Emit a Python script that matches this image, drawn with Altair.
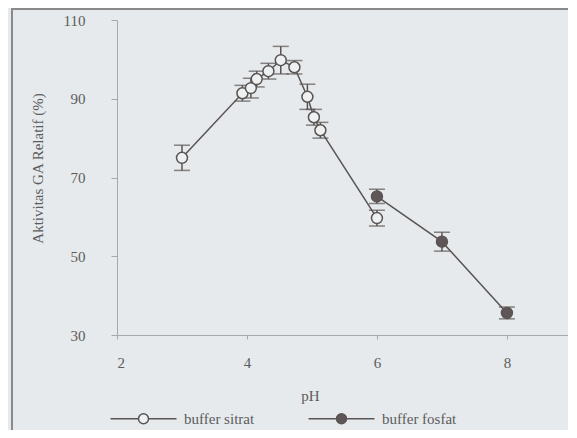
import altair as alt
import pandas as pd

# --- data ---
series_names = ["buffer sitrat", "buffer fosfat"]

sitrat_ph = [3.0, 3.93, 4.06, 4.15, 4.33, 4.52, 4.73, 4.93, 5.03, 5.13, 6.0]
sitrat_val = [75.0, 91.4, 92.7, 95.0, 97.0, 99.8, 98.0, 90.5, 85.3, 82.0, 59.7]
sitrat_err = [3.2, 2.0, 2.5, 2.0, 2.0, 3.5, 1.7, 3.2, 2.0, 2.0, 2.0]

fosfat_ph = [6.0, 7.0, 8.0]
fosfat_val = [65.2, 53.7, 35.6]
fosfat_err = [1.8, 2.4, 1.5]

x_ticks = [2, 4, 6, 8]
y_ticks = [30, 50, 70, 90, 110]

rows = []
for p, v, e in zip(sitrat_ph, sitrat_val, sitrat_err):
    rows.append({"pH": p, "val": v, "lo": v - e, "hi": v + e, "buffer": series_names[0]})
for p, v, e in zip(fosfat_ph, fosfat_val, fosfat_err):
    rows.append({"pH": p, "val": v, "lo": v - e, "hi": v + e, "buffer": series_names[1]})
df = pd.DataFrame(rows)

FONT = "Liberation Serif"
INK = "#5a5453"
TXT = "#5c5c5c"
legend_path = "M-6.6,0L-1,0M1,0L6.6,0M-1,0A1,1,0,1,0,1,0A1,1,0,1,0,-1,0"

xs = alt.X("pH:Q",
           scale=alt.Scale(domain=[2, 8.94], nice=False, zero=False),
           axis=alt.Axis(values=x_ticks, format="d", title="pH", grid=False,
                         domainColor="#a8a8a8", tickColor="#a8a8a8", tickSize=4,
                         labelPadding=16,
                         labelFont=FONT, labelFontSize=15, labelColor=TXT,
                         titleFont=FONT, titleFontSize=15, titleFontWeight="normal",
                         titleColor=TXT, titleX=193, titleY=60, titleBaseline="middle"))
ys = alt.Y("val:Q",
           scale=alt.Scale(domain=[30, 110], nice=False, zero=False),
           axis=alt.Axis(values=y_ticks, format="d", title="Aktivitas GA Relatif (%)",
                         grid=False, domainColor="#a8a8a8", tickColor="#a8a8a8", tickSize=6,
                         labelPadding=26, labelFont=FONT, labelFontSize=15, labelColor=TXT,
                         titleFont=FONT, titleFontSize=15, titleFontWeight="normal",
                         titleColor=TXT, titleAngle=270, titleX=-80, titleY=148,
                         titleAlign="center", titleBaseline="middle"))

base = alt.Chart(df)

lines = base.mark_line(color=INK, strokeWidth=1.5).encode(
    x=xs, y=ys, detail="buffer:N", order="pH:Q")

rules = base.mark_rule(color=INK, strokeWidth=1.5).encode(
    x="pH:Q", y="lo:Q", y2="hi:Q")

cap_lo = base.mark_tick(color=INK, orient="horizontal", size=16, thickness=1.5).encode(
    x="pH:Q", y="lo:Q")
cap_hi = base.mark_tick(color=INK, orient="horizontal", size=16, thickness=1.5).encode(
    x="pH:Q", y="hi:Q")

points = base.mark_point(filled=True, size=120, stroke=INK, strokeWidth=1.5, opacity=1).encode(
    x="pH:Q", y="val:Q",
    fill=alt.Fill("buffer:N",
                  scale=alt.Scale(domain=series_names, range=["#eef1f2", "#5e5657"]),
                  legend=alt.Legend(title=None, orient="none", direction="horizontal",
                                    legendX=19, legendY=391,
                                    symbolType=legend_path, symbolSize=100,
                                    symbolStrokeColor=INK, symbolStrokeWidth=1.5,
                                    labelOffset=33, columnPadding=50,
                                    labelFont=FONT, labelFontSize=15, labelColor=TXT)))

frame_left = alt.Chart(pd.DataFrame({"k": [0]})).mark_rule(color="#8a8a8a", strokeWidth=2).encode(
    x=alt.value(-105), y=alt.value(-12), y2=alt.value(420))
frame_top = alt.Chart(pd.DataFrame({"k": [0]})).mark_rule(color="#8a8a8a", strokeWidth=2).encode(
    x=alt.value(-105), x2=alt.value(460), y=alt.value(-11))

chart = alt.layer(frame_left, frame_top, lines, rules, cap_lo, cap_hi, points).properties(
    width=451, height=315,
    autosize=alt.AutoSizeParams(type="none"),
    padding={"left": 109, "top": 12, "right": 0, "bottom": 95},
    background="#e6eaec",
).configure_view(stroke=None)

chart.save("out.html", embed_options={"renderer": "svg", "actions": False})
